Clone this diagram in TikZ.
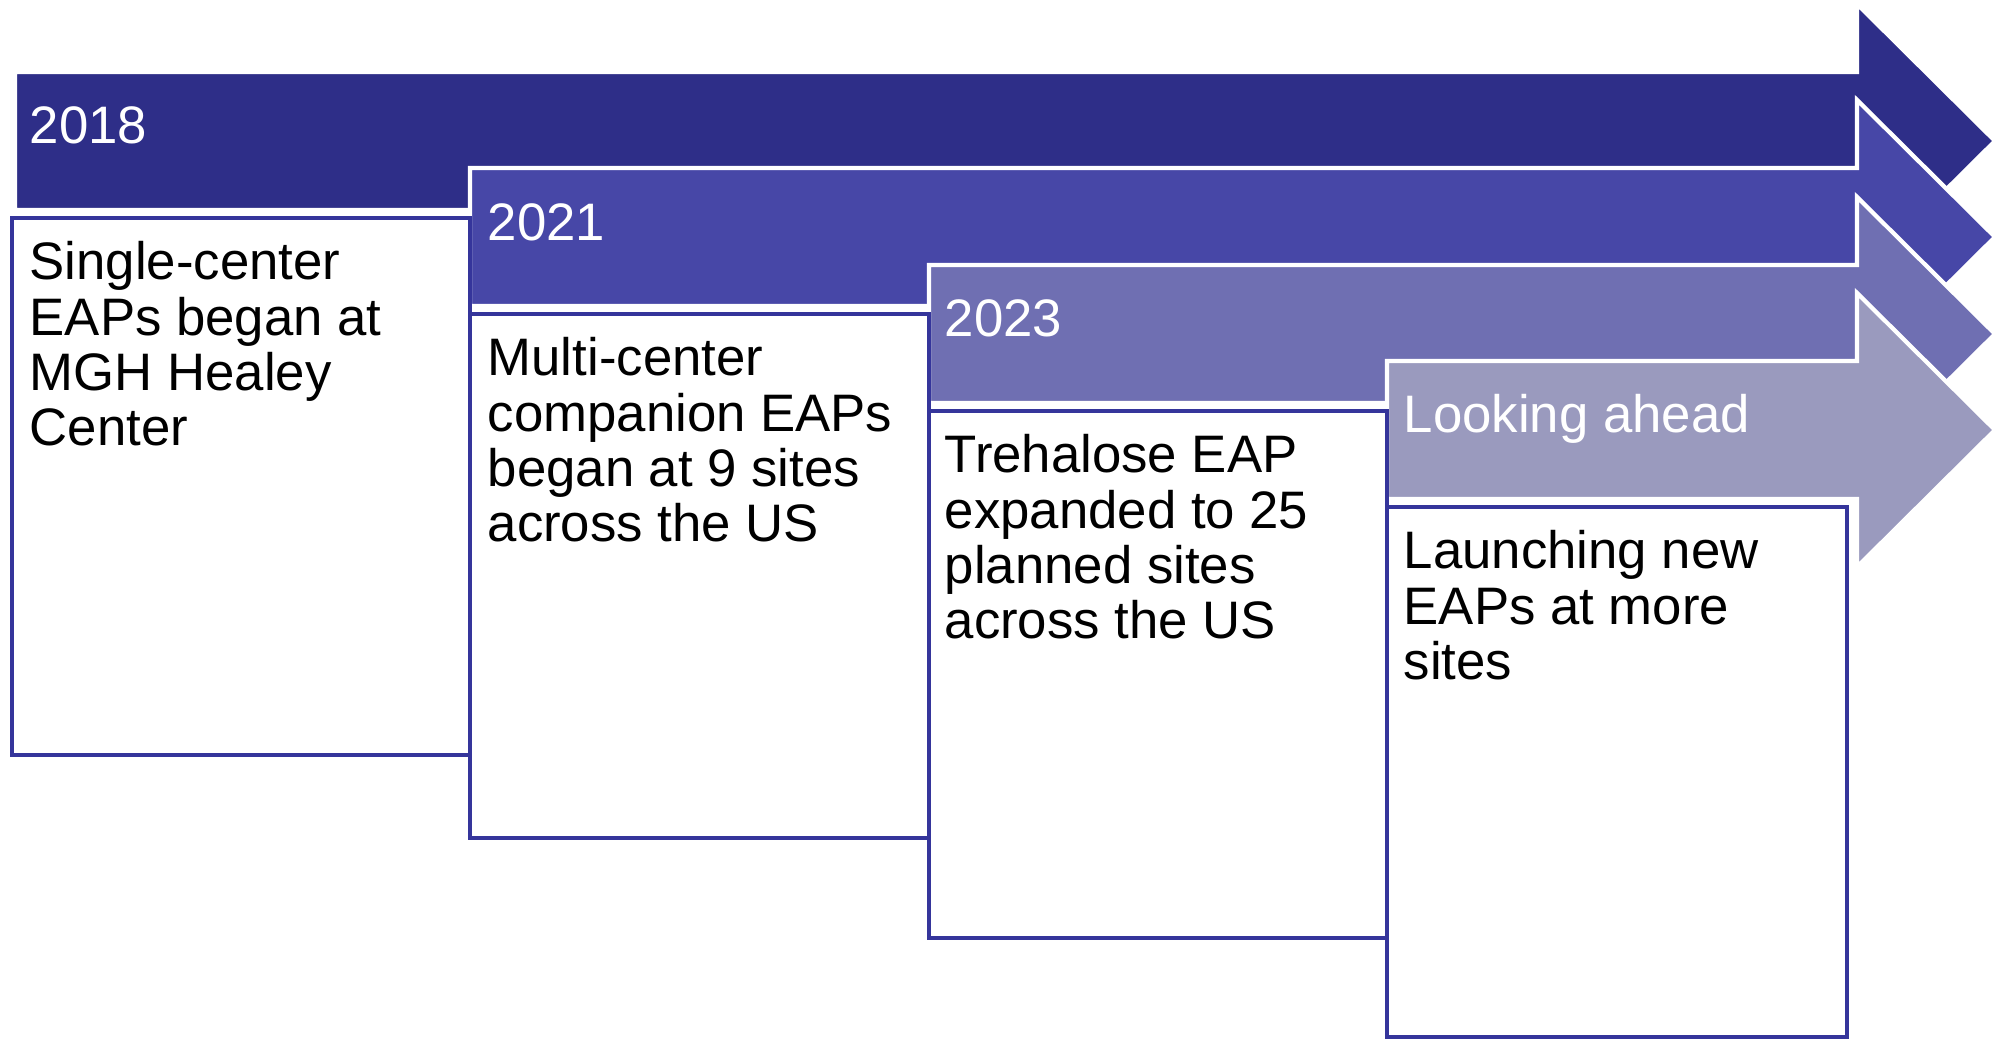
\documentclass[tikz,border=0pt]{standalone}
\usepackage{fontspec}
\setmainfont{Liberation Sans}

\definecolor{bandA}{RGB}{46,46,136}
\definecolor{bandB}{RGB}{71,71,167}
\definecolor{bandC}{RGB}{111,111,178}
\definecolor{bandD}{RGB}{154,154,190}
\definecolor{boxline}{RGB}{53,53,155}

\tikzset{
  band/.style={draw=white, line width=1.2pt, line join=miter},
  stagebox/.style={draw=boxline, line width=1.2pt, fill=white},
  yearlabel/.style={anchor=base west, inner sep=0pt, text=white,
    font=\fontsize{15pt}{15.7pt}\selectfont},
  stagetext/.style={anchor=north west, inner sep=0pt, align=left,
    font=\fontsize{15pt}{15.7pt}\selectfont},
}

\begin{document}
\begin{tikzpicture}[x=0.01cm, y=-0.01cm]
  \useasboundingbox (0,0) rectangle (1995,1039);

  % arrows, one per stage
  \draw[band, fill=bandA] (15,72) -- (1857,72) -- (1857,4) -- (1995,141)
    -- (1857,278) -- (1857,210) -- (15,210) -- cycle;
  \draw[band, fill=bandB] (470,168) -- (1857,168) -- (1857,100) -- (1995,237)
    -- (1857,374) -- (1857,306) -- (470,306) -- cycle;
  \draw[band, fill=bandC] (929,265) -- (1857,265) -- (1857,197) -- (1995,334)
    -- (1857,471) -- (1857,403) -- (929,403) -- cycle;
  \draw[band, fill=bandD] (1387,361) -- (1857,361) -- (1857,293) -- (1995,430)
    -- (1857,567) -- (1857,499) -- (1387,499) -- cycle;

  % boxes below the arrows
  \draw[stagebox] (12,218) rectangle (470,755);
  \draw[stagebox] (470,314) rectangle (929,838);
  \draw[stagebox] (929,411) rectangle (1387,938);
  \draw[stagebox] (1387,507) rectangle (1847,1037);

  \begin{scope}
    \node[yearlabel] (yr2018) at (29,143)   {2018};
    \node[yearlabel] (yr2021) at (487,240)  {2021};
    \node[yearlabel] (yr2023) at (944,336)  {2023};
    \node[yearlabel] (ahead)  at (1403,432) {Looking ahead};
  \end{scope}

  \begin{scope}
    \node[stagetext] (txt2018) at (29,241)   {Single-center\\EAPs began at\\MGH Healey\\Center};
    \node[stagetext] (txt2021) at (487,337)  {Multi-center\\companion EAPs\\began at 9 sites\\across the US};
    \node[stagetext] (txt2023) at (944,434)  {Trehalose EAP\\expanded to 25\\planned sites\\across the US};
    \node[stagetext] (txtahead) at (1403,530) {Launching new\\EAPs at more\\sites};
  \end{scope}

\end{tikzpicture}
\end{document}
